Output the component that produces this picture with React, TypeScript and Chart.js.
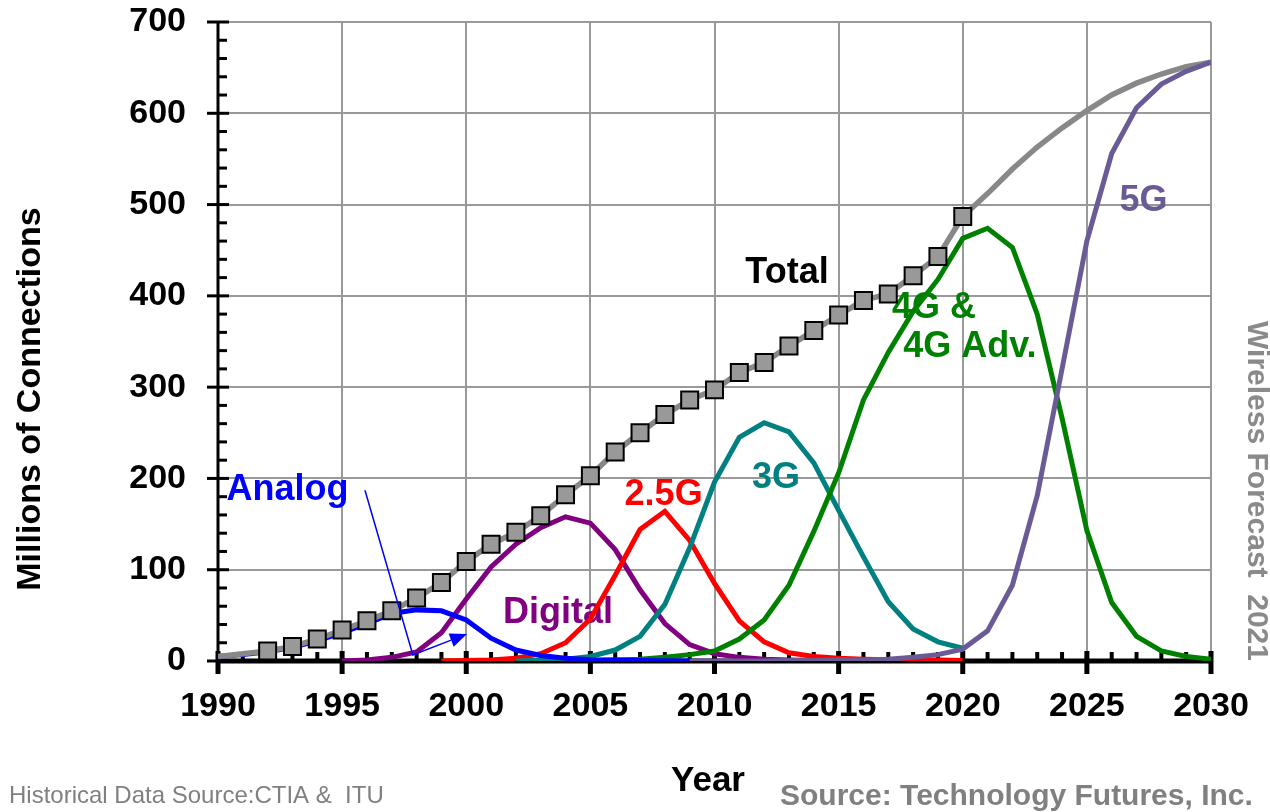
import React, { useEffect, useRef } from "react";
import { Chart, registerables } from "chart.js";

Chart.register(...registerables);

const YEARS = [
  1990, 1991, 1992, 1993, 1994, 1995, 1996, 1997, 1998, 1999,
  2000, 2001, 2002, 2003, 2004, 2005, 2006, 2007, 2008, 2009,
  2010, 2011, 2012, 2013, 2014, 2015, 2016, 2017, 2018, 2019,
  2020, 2021, 2022, 2023, 2024, 2025, 2026, 2027, 2028, 2029, 2030,
];

// Total connections (1990-2030); markers on historical years 1992-2020
const TOTAL = [
  5, 8, 11, 16, 24, 34, 44, 55, 69, 86,
  109, 128, 141, 159, 182, 203, 229, 250, 270, 286,
  297, 316, 327, 345, 362, 379, 395, 402, 422, 443,
  487, 512, 539, 563, 584, 603, 620, 633, 643, 651, 656,
];
const TOTAL_MARKER_START = 1992;
const TOTAL_MARKER_END = 2020;

const ANALOG_START = 1990;
const ANALOG = [5, 7, 10, 15, 22, 31, 41, 52, 56, 55, 45, 25, 12, 6, 3, 1.5, 1, 0.5, 0.3, 0];

const DIGITAL_START = 1995;
const DIGITAL = [0, 1, 4, 10, 31, 68, 103, 128, 146, 158, 151, 122, 78, 41, 18, 8, 4, 2, 1, 0.5, 0];

const G25_START = 1999;
const G25 = [0, 0.5, 1, 3, 8, 20, 46, 94, 144, 164, 132, 85, 44, 21, 9, 5, 3, 2, 1.5, 1, 1, 0.5];

const G3_START = 2002;
const G3 = [0, 1, 2, 5, 12, 27, 62, 124, 196, 245, 261, 251, 217, 165, 114, 65, 35, 21, 14];

const G4_START = 2004;
const G4 = [0, 0.5, 1, 2, 4, 7, 11, 24, 45, 83, 142, 206, 286, 338, 383, 418, 463, 474, 453, 380, 266, 143, 64, 27, 11, 5, 2];

const G5_START = 2009;
const G5 = [0, 0, 0, 0, 0.5, 0.5, 1, 1, 2, 4, 7, 13, 33, 83, 181, 320, 460, 556, 606, 632, 646, 656];

const X_TICKS = [1990, 1995, 2000, 2005, 2010, 2015, 2020, 2025, 2030];
const Y_TICKS = [0, 100, 200, 300, 400, 500, 600, 700];

const FONT = "'Liberation Sans', Arial, sans-serif";

function toPoints(start: number, vals: number[]) {
  const out: { x: number; y: number }[] = [];
  vals.forEach((v, i) => {
    const yr = YEARS[YEARS.indexOf(start) + i];
    out.push({ x: yr, y: v });
  });
  return out;
}

type Label = { text: string; x: number; y: number; color: string; align: CanvasTextAlign };
const LABELS: Label[] = [
  { text: "Total", x: 2012.92, y: 425, color: "#000000", align: "center" },
  { text: "Analog", x: 1992.8, y: 187, color: "#0000FF", align: "center" },
  { text: "Digital", x: 2003.7, y: 53, color: "#800080", align: "center" },
  { text: "2.5G", x: 2007.95, y: 182, color: "#FF0000", align: "center" },
  { text: "3G", x: 2012.48, y: 200, color: "#008080", align: "center" },
  { text: "4G &", x: 2017.15, y: 387, color: "#008000", align: "left" },
  { text: "4G Adv.", x: 2017.6, y: 344, color: "#008000", align: "left" },
  { text: "5G", x: 2027.28, y: 504, color: "#6A5A96", align: "center" },
];

const ARROW_PATH = [
  { x: 1995.92, y: 187 },
  { x: 1997.85, y: 6.6 },
  { x: 2000.03, y: 29.6 },
];

const axesPlugin = {
  id: "customAxes",
  beforeDatasetsDraw(chart: any) {
    const { ctx, chartArea, scales } = chart;
    const xs = scales.x;
    const ys = scales.y;
    ctx.save();
    ctx.strokeStyle = "#000";
    // y axis
    ctx.lineWidth = 3;
    ctx.beginPath();
    ctx.moveTo(chartArea.left, chartArea.top - 1);
    ctx.lineTo(chartArea.left, chartArea.bottom);
    ctx.stroke();
    for (let v = 0; v <= 700; v += 20) {
      const y = ys.getPixelForValue(v);
      const major = v % 100 === 0;
      ctx.lineWidth = 3;
      ctx.beginPath();
      ctx.moveTo(major ? chartArea.left - 11 : chartArea.left, y);
      ctx.lineTo(chartArea.left + (major ? 11 : 9), y);
      ctx.stroke();
    }
    // x axis
    ctx.lineWidth = 5;
    ctx.beginPath();
    ctx.moveTo(chartArea.left, chartArea.bottom);
    ctx.lineTo(chartArea.right, chartArea.bottom);
    ctx.stroke();
    for (let yr = 1990; yr <= 2030; yr++) {
      const x = xs.getPixelForValue(yr);
      const major = (yr - 1990) % 5 === 0;
      ctx.lineWidth = major ? 5 : 4;
      ctx.beginPath();
      if (major) {
        ctx.moveTo(x, chartArea.bottom - 10);
        ctx.lineTo(x, chartArea.bottom + 13);
      } else {
        ctx.moveTo(x, chartArea.bottom - 9);
        ctx.lineTo(x, chartArea.bottom);
      }
      ctx.stroke();
    }
    // labels inside plot
    ctx.font = `bold 36px ${FONT}`;
    ctx.textBaseline = "middle";
    LABELS.forEach((l) => {
      ctx.fillStyle = l.color;
      ctx.textAlign = l.align;
      ctx.fillText(l.text, xs.getPixelForValue(l.x), ys.getPixelForValue(l.y));
    });
    ctx.restore();
  },
  afterDatasetsDraw(chart: any) {
    const { ctx, scales } = chart;
    const xs = scales.x;
    const ys = scales.y;
    const pts = ARROW_PATH.map((p) => ({ x: xs.getPixelForValue(p.x), y: ys.getPixelForValue(p.y) }));
    ctx.save();
    ctx.strokeStyle = "#0000FF";
    ctx.fillStyle = "#0000FF";
    ctx.lineWidth = 1.5;
    ctx.beginPath();
    ctx.moveTo(pts[0].x, pts[0].y);
    ctx.lineTo(pts[1].x, pts[1].y);
    const a = pts[1];
    const b = pts[2];
    const ang = Math.atan2(b.y - a.y, b.x - a.x);
    const headLen = 17;
    const bx = b.x - headLen * Math.cos(ang);
    const by = b.y - headLen * Math.sin(ang);
    ctx.lineTo(bx, by);
    ctx.stroke();
    ctx.beginPath();
    ctx.moveTo(b.x, b.y);
    ctx.lineTo(bx + 7 * Math.sin(ang), by - 7 * Math.cos(ang));
    ctx.lineTo(bx - 7 * Math.sin(ang), by + 7 * Math.cos(ang));
    ctx.closePath();
    ctx.fill();
    ctx.restore();
  },
  afterDraw(chart: any) {
    const { ctx } = chart;
    ctx.save();
    // Y title
    ctx.fillStyle = "#000";
    ctx.font = `bold 34px ${FONT}`;
    ctx.textAlign = "center";
    ctx.textBaseline = "middle";
    ctx.save();
    ctx.translate(31, 399);
    ctx.rotate(-Math.PI / 2);
    ctx.fillText("Millions of Connections", 0, 0);
    ctx.restore();
    // X title
    ctx.font = `bold 35px ${FONT}`;
    ctx.fillText("Year", 708, 781);
    // sources
    ctx.fillStyle = "#808080";
    ctx.font = `bold 30px ${FONT}`;
    ctx.textAlign = "left";
    ctx.fillText("Source: Technology Futures, Inc.", 780, 797);
    ctx.font = `24px ${FONT}`;
    ctx.fillText("Historical Data Source:CTIA &  ITU", 9, 796);
    // Wireless forecast
    ctx.fillStyle = "#8a8a8a";
    ctx.font = `bold 30px ${FONT}`;
    ctx.textAlign = "center";
    ctx.save();
    ctx.translate(1256, 491);
    ctx.rotate(Math.PI / 2);
    ctx.fillText("Wireless Forecast  2021", 0, 0);
    ctx.restore();
    ctx.restore();
  },
};

export default function App() {
  const ref = useRef<HTMLCanvasElement | null>(null);
  useEffect(() => {
    document.body.style.margin = "0";
    if (!ref.current) return;
    const lineDs = (label: string, start: number, vals: number[], color: string, order: number) => ({
      label,
      data: toPoints(start, vals),
      borderColor: color,
      backgroundColor: color,
      borderWidth: 5,
      pointRadius: 0,
      pointHoverRadius: 0,
      tension: 0,
      fill: false,
      order,
    });
    const totalPts = toPoints(1990, TOTAL);
    const chart = new Chart(ref.current, {
      type: "line",
      data: {
        datasets: [
          lineDs("5G", G5_START, G5, "#6A5A96", 0),
          {
            label: "Total",
            data: totalPts,
            borderColor: "#888888",
            backgroundColor: "#999999",
            borderWidth: 5.5,
            pointStyle: "rect",
            pointRadius: totalPts.map((p) => (p.x >= TOTAL_MARKER_START && p.x <= TOTAL_MARKER_END ? 12 : 0)),
            pointBorderColor: "#000000",
            pointBackgroundColor: "#999999",
            pointBorderWidth: 2,
            pointHoverRadius: 0,
            tension: 0,
            fill: false,
            order: 1,
          } as any,
          lineDs("Analog", ANALOG_START, ANALOG, "#0000FF", 2),
          lineDs("4G & 4G Adv.", G4_START, G4, "#008000", 3),
          lineDs("3G", G3_START, G3, "#008080", 4),
          lineDs("2.5G", G25_START, G25, "#FF0000", 5),
          lineDs("Digital", DIGITAL_START, DIGITAL, "#800080", 6),
        ],
      },
      options: {
        responsive: false,
        animation: false,
        events: [],
        layout: { padding: { top: 22, right: 59, left: 0, bottom: 0 } },
        plugins: { legend: { display: false }, tooltip: { enabled: false }, title: { display: false } },
        scales: {
          x: {
            type: "linear",
            min: 1990,
            max: 2030,
            afterBuildTicks: (s: any) => {
              s.ticks = X_TICKS.map((v) => ({ value: v }));
            },
            afterFit: (s: any) => {
              s.height = 151;
              s.paddingLeft = 0;
              s.paddingRight = 0;
            },
            ticks: {
              font: { family: FONT, size: 34, weight: "bold" },
              color: "#000",
              padding: 25,
              maxRotation: 0,
              autoSkip: false,
              callback: (v: any) => String(v),
            },
            grid: { color: "#999999", lineWidth: 2, drawTicks: false },
            border: { display: false },
          },
          y: {
            type: "linear",
            min: 0,
            max: 700,
            afterBuildTicks: (s: any) => {
              s.ticks = Y_TICKS.map((v) => ({ value: v }));
            },
            afterFit: (s: any) => {
              s.width = 218;
              s.paddingTop = 0;
              s.paddingBottom = 0;
            },
            ticks: {
              font: { family: FONT, size: 34, weight: "bold" },
              color: "#000",
              padding: 32,
              callback: (v: any) => String(v),
            },
            grid: { color: "#999999", lineWidth: 2, drawTicks: false },
            border: { display: false },
          },
        },
      } as any,
      plugins: [axesPlugin],
    });
    return () => chart.destroy();
  }, []);
  return (
    <div style={{ position: "absolute", left: 0, top: 0, width: 1270, height: 812, background: "#fff" }}>
      <canvas ref={ref} width={1270} height={812} />
    </div>
  );
}
